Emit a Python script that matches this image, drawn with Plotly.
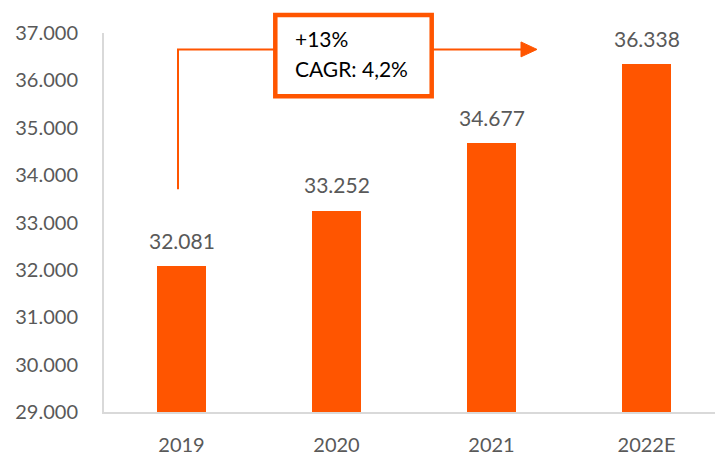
import plotly.graph_objects as go

categories = ["2019", "2020", "2021", "2022E"]
values = [32081, 33252, 34677, 36338]
box_lines = ["+13%", "CAGR: 4,2%"]

ORANGE = "#FF5500"
GRAY = "#595959"
FONT = "Lato"

W, H = 715, 456
ML, MR, MT, MB = 104, 0, 33, 42
PW, PH = W - ML - MR, H - MT - MB
STEP = 155.0  # px per category


def X(px):
    return (px - ML) / PW


def Y(py):
    return (H - MB - py) / PH


fig = go.Figure()
fig.add_trace(go.Bar(
    x=categories, y=values, width=49 / STEP,
    marker=dict(color=ORANGE, line=dict(width=0)),
    hoverinfo="skip",
))

annotations = []
for i, (c, v) in enumerate(zip(categories, values)):
    annotations.append(dict(
        x=i, y=v, xref="x", yref="y", text=f"{v:,.0f}".replace(",", "."),
        showarrow=False, yanchor="middle", yshift=26,
        font=dict(family=FONT, size=21, color=GRAY),
    ))

annotations.append(dict(x=X(293), y=Y(39), xref="paper", yref="paper", text=box_lines[0],
                        showarrow=False, xanchor="left", yanchor="middle",
                        font=dict(family=FONT, size=21, color="#000000")))
annotations.append(dict(x=X(293), y=Y(69), xref="paper", yref="paper", text=box_lines[1],
                        showarrow=False, xanchor="left", yanchor="middle",
                        font=dict(family=FONT, size=21, color="#000000")))

shapes = [
    # connector from 2019 up to the box
    dict(type="path", xref="paper", yref="paper",
         path=f"M {X(178)} {Y(190)} L {X(178)} {Y(49.5)} L {X(274)} {Y(49.5)}",
         line=dict(color=ORANGE, width=2)),
    # arrow shaft
    dict(type="line", xref="paper", yref="paper",
         x0=X(433), x1=X(523), y0=Y(49.5), y1=Y(49.5),
         line=dict(color=ORANGE, width=2)),
    # arrow head
    dict(type="path", xref="paper", yref="paper",
         path=f"M {X(521)} {Y(42)} L {X(537)} {Y(49.5)} L {X(521)} {Y(57)} Z",
         fillcolor=ORANGE, line=dict(color=ORANGE, width=1)),
    # box
    dict(type="rect", xref="paper", yref="paper",
         x0=X(275.3), x1=X(431.7), y0=Y(15), y1=Y(96.7),
         fillcolor="white", line=dict(color=ORANGE, width=4.5)),
]

fig.update_layout(
    width=W, height=H,
    margin=dict(l=ML, r=MR, t=MT, b=MB),
    paper_bgcolor="white", plot_bgcolor="white",
    separators=",.",
    showlegend=False,
    bargap=0,
    annotations=annotations,
    shapes=shapes,
    font=dict(family=FONT, size=20, color=GRAY),
)
fig.update_xaxes(
    type="category", range=[-0.5, -0.5 + PW / STEP],
    showgrid=False, zeroline=False,
    showline=True, linecolor="#D9D9D9", linewidth=2,
    ticks="", ticklabelstandoff=14,
    tickfont=dict(family=FONT, size=20, color=GRAY),
)
fig.update_yaxes(
    range=[29000, 37000], dtick=1000, tickformat=",.0f",
    showgrid=False, zeroline=False,
    showline=True, linecolor="#D9D9D9", linewidth=2,
    ticks="", ticklabelstandoff=20,
    tickfont=dict(family=FONT, size=20, color=GRAY),
)

fig.write_html(
    "out.html",
    config={"displayModeBar": False},
    post_script="document.body.style.margin='0';document.body.style.overflow='hidden';",
)
